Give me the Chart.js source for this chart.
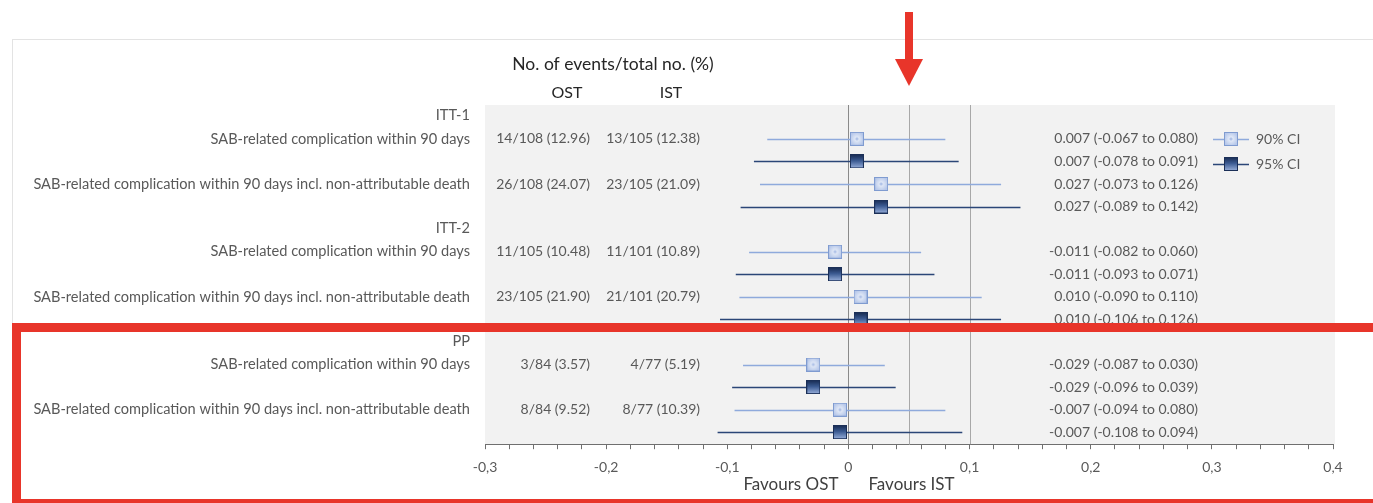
<!DOCTYPE html>
<html>
<head>
<meta charset="utf-8">
<title>Forest plot</title>
<script src="https://cdn.jsdelivr.net/npm/chart.js@4/dist/chart.umd.min.js"></script>
<style>
  html, body { margin: 0; padding: 0; background: #fff; }
  #wrap { position: relative; width: 1373px; height: 503px; overflow: hidden; }
  #forest { position: absolute; left: 0; top: 0; }
  #frame { position: absolute; left: 12px; top: 39px; width: 1420px; height: 520px; border: 1px solid #e3e3e3; }
  #ppBox { position: absolute; left: 12px; top: 323px; width: 1420px; height: 185px; border: 9px solid #e8352a; box-sizing: border-box; }
  #arrow { position: absolute; left: 893px; top: 10px; }
</style>
</head>
<body>
<div id="wrap">
  <div id="frame"></div>
  <canvas id="forest" width="1373" height="503"></canvas>
  <div id="ppBox"></div>
  <svg id="arrow" width="32" height="80" viewBox="0 0 32 80">
    <rect x="12" y="2" width="8" height="49" fill="#e8352a"/>
    <polygon points="2,49 30,49 16,76" fill="#e8352a"/>
  </svg>
</div>
<script>
const groups = ['ITT-1', 'ITT-2', 'PP'];
const outcomes = [
  'SAB-related complication within 90 days',
  'SAB-related complication within 90 days incl. non-attributable death'
];
const ostEvents = ['14/108 (12.96)', '26/108 (24.07)', '11/105 (10.48)', '23/105 (21.90)', '3/84 (3.57)', '8/84 (9.52)'];
const istEvents = ['13/105 (12.38)', '23/105 (21.09)', '11/101 (10.89)', '21/101 (20.79)', '4/77 (5.19)', '8/77 (10.39)'];
const estimate = [0.007, 0.027, -0.011, 0.010, -0.029, -0.007];
const ci90Low  = [-0.067, -0.073, -0.082, -0.090, -0.087, -0.094];
const ci90High = [0.080, 0.126, 0.060, 0.110, 0.030, 0.080];
const ci95Low  = [-0.078, -0.089, -0.093, -0.106, -0.096, -0.108];
const ci95High = [0.091, 0.142, 0.071, 0.126, 0.039, 0.094];
const refLines = [0, 0.05, 0.1];

const FONT = 'Lato, "Open Sans", sans-serif';
const GREY = '#595959';
const DARK = '#262626';
const C90 = '#8faadc';
const C95 = '#2b4677';

// each group: two outcomes, each with a 90% row and a 95% row, then one blank slot
const slotOf = (i, ci) => Math.floor(i / 2) * 5 + (i % 2) * 2 + (ci === 95 ? 1 : 0);

function squareMarker(kind) {
  const c = document.createElement('canvas');
  c.width = 14; c.height = 14;
  const g = c.getContext('2d');
  let fill;
  if (kind === 90) {
    fill = g.createRadialGradient(7, 7, 0.5, 7, 7, 7);
    fill.addColorStop(0, '#a9bde6');
    fill.addColorStop(0.25, '#dfe7f6');
    fill.addColorStop(1, '#b7c8ea');
  } else {
    fill = g.createLinearGradient(0, 0, 0, 14);
    fill.addColorStop(0, '#16294f');
    fill.addColorStop(0.45, '#3b5a92');
    fill.addColorStop(1, '#9cb3de');
  }
  g.fillStyle = fill;
  g.fillRect(0, 0, 14, 14);
  g.strokeStyle = kind === 90 ? '#7f9bd0' : '#1b2f57';
  g.lineWidth = 1;
  g.strokeRect(0.5, 0.5, 13, 13);
  return c;
}
const marker90 = squareMarker(90);
const marker95 = squareMarker(95);

const fmt = v => v.toFixed(3);

const pts90 = estimate.map((e, i) => ({ x: e, y: slotOf(i, 90), lo: ci90Low[i], hi: ci90High[i] }));
const pts95 = estimate.map((e, i) => ({ x: e, y: slotOf(i, 95), lo: ci95Low[i], hi: ci95High[i] }));

const forestPlugin = {
  id: 'forest',
  beforeDraw(chart) {
    const { ctx, chartArea: a } = chart;
    ctx.save();
    ctx.fillStyle = '#f2f2f2';
    ctx.fillRect(a.left, a.top, a.right - a.left + 2, a.bottom - a.top);
    ctx.restore();
  },
  beforeDatasetsDraw(chart) {
    const { ctx, chartArea: a, scales: { x, y } } = chart;
    ctx.save();
    // reference lines
    refLines.forEach(v => {
      const px = Math.round(x.getPixelForValue(v)) + 0.5;
      ctx.strokeStyle = v === 0 ? '#8a8a8a' : '#a8a8a8';
      ctx.lineWidth = 1;
      ctx.beginPath();
      ctx.moveTo(px, a.top);
      ctx.lineTo(px, a.bottom);
      ctx.stroke();
    });
    // confidence interval whiskers
    chart.data.datasets.forEach(ds => {
      ctx.strokeStyle = ds.borderColor;
      ctx.lineWidth = 1.3;
      ds.data.forEach(p => {
        const py = Math.round(y.getPixelForValue(p.y)) + 0.5;
        ctx.beginPath();
        ctx.moveTo(x.getPixelForValue(p.lo), py);
        ctx.lineTo(x.getPixelForValue(p.hi), py);
        ctx.stroke();
      });
    });
    ctx.restore();
  },
  afterDraw(chart) {
    const { ctx, chartArea: a, scales: { x, y } } = chart;
    ctx.save();
    ctx.textBaseline = 'middle';

    // column headers
    ctx.fillStyle = DARK;
    ctx.font = '17.5px ' + FONT;
    ctx.textAlign = 'center';
    ctx.fillText('No. of events/total no. (%)', a.left + 128, a.top - 41);
    ctx.font = '16px ' + FONT;
    ctx.fillText('OST', a.left + 82, a.top - 12);
    ctx.fillText('IST', a.left + 186, a.top - 12);

    ctx.font = '14.6px ' + FONT;
    ctx.fillStyle = GREY;
    groups.forEach((g, gi) => {
      ctx.textAlign = 'right';
      ctx.fillText(g, a.left - 15, y.getPixelForValue(gi * 5 - 1.05));
    });
    estimate.forEach((e, i) => {
      const y90 = y.getPixelForValue(slotOf(i, 90));
      const y95 = y.getPixelForValue(slotOf(i, 95));
      ctx.textAlign = 'right';
      ctx.font = '14.6px ' + FONT;
      ctx.fillText(outcomes[i % 2], a.left - 15, y90);
      ctx.font = '14px ' + FONT;
      ctx.fillText(ostEvents[i], a.left + 105, y90);
      ctx.fillText(istEvents[i], a.left + 215, y90);
      ctx.fillText(`${fmt(e)} (${fmt(ci90Low[i])} to ${fmt(ci90High[i])})`, a.right - 135, y90);
      ctx.fillText(`${fmt(e)} (${fmt(ci95Low[i])} to ${fmt(ci95High[i])})`, a.right - 135, y95);
    });

    // legend
    [[90, C90, marker90], [95, C95, marker95]].forEach(([lvl, col, mk], k) => {
      const ly = Math.round(y.getPixelForValue(k) + k * 3) + 0.5;
      const lx = a.right - 120;
      ctx.strokeStyle = col;
      ctx.lineWidth = 1.3;
      ctx.beginPath();
      ctx.moveTo(lx, ly);
      ctx.lineTo(lx + 36, ly);
      ctx.stroke();
      ctx.drawImage(mk, lx + 11, ly - 7.5);
      ctx.textAlign = 'left';
      ctx.fillStyle = GREY;
      ctx.fillText(lvl + '% CI', lx + 43, ly);
    });

    // direction captions under the axis
    const x0 = x.getPixelForValue(0);
    ctx.fillStyle = '#404040';
    ctx.font = '17px ' + FONT;
    ctx.textAlign = 'right';
    ctx.fillText('Favours OST', x0 - 10, a.bottom + 40);
    ctx.textAlign = 'left';
    ctx.fillText('Favours IST', x0 + 20, a.bottom + 40);
    ctx.restore();
  }
};

new Chart(document.getElementById('forest'), {
  type: 'scatter',
  data: {
    datasets: [
      { label: '90% CI', data: pts90, borderColor: C90, backgroundColor: C90,
        pointStyle: marker90, pointRadius: 7, pointHoverRadius: 7 },
      { label: '95% CI', data: pts95, borderColor: C95, backgroundColor: C95,
        pointStyle: marker95, pointRadius: 7, pointHoverRadius: 7 }
    ]
  },
  options: {
    responsive: false,
    animation: false,
    devicePixelRatio: 1,
    layout: { padding: { left: 485, right: 40, top: 105, bottom: 17 } },
    plugins: { legend: { display: false }, tooltip: { enabled: false } },
    scales: {
      x: {
        type: 'linear',
        min: -0.3,
        max: 0.4,
        border: { display: true, color: '#6f6f6f', width: 1 },
        grid: { drawOnChartArea: false, drawTicks: true, tickLength: 5, color: '#6f6f6f' },
        ticks: {
          stepSize: 0.02,
          autoSkip: false,
          maxRotation: 0,
          padding: 10,
          color: GREY,
          font: { family: FONT, size: 14 },
          callback: v => {
            const n = Math.round(v * 100);
            if (n % 10 !== 0) return '';
            return n === 0 ? '0' : (n / 100).toFixed(1).replace('.', ',');
          }
        }
      },
      y: {
        type: 'linear',
        display: false,
        reverse: true,
        min: -1.5,
        max: 13.53
      }
    }
  },
  plugins: [forestPlugin]
});
</script>
</body>
</html>
